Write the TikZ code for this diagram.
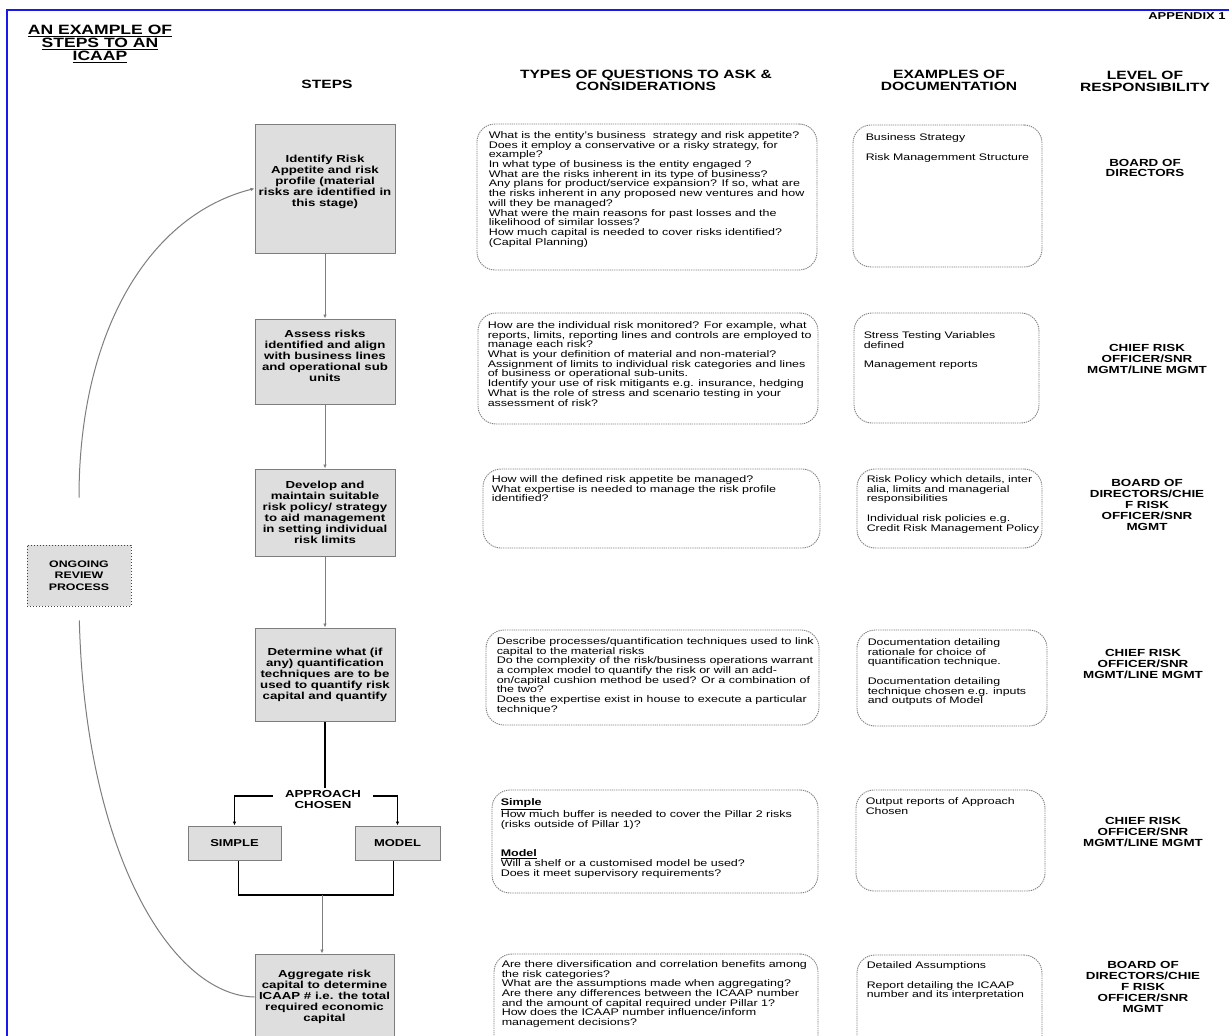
\documentclass[tikz,border=0pt]{standalone}
\usepackage{fontspec}
\setmainfont[FakeStretch=1.3]{Liberation Sans}
\usetikzlibrary{positioning,arrows.meta}

\definecolor{boxgray}{RGB}{222,222,222}
\definecolor{linegray}{RGB}{125,125,125}
\definecolor{frameblue}{RGB}{25,25,235}

\begin{document}
\begin{tikzpicture}[x=1pt, y=-1pt, >={Latex[length=4pt,width=3.5pt]},
    step_style/.style={draw=linegray, fill=boxgray, line width=1pt, align=center, inner sep=0pt, minimum width=140pt, font=\bfseries\fontsize{10.2}{11}\selectfont},
    choice_style/.style={draw=linegray, fill=boxgray, line width=1pt, inner sep=0pt, minimum height=34pt, font=\bfseries\fontsize{10}{11}\selectfont},
    approach_style/.style={align=center, inner xsep=12pt, inner ysep=2pt, font=\bfseries\fontsize{10.2}{11}\selectfont},
    review_style/.style={draw=darkgray, dotted, fill=boxgray, line width=1pt, align=center, minimum width=104pt, minimum height=61pt, font=\bfseries\fontsize{9.5}{11.5}\selectfont},
    rounded_style/.style={draw=gray, dash pattern=on 1.3pt off 0.9pt, line width=0.9pt, rounded corners=18pt, inner sep=0pt},
    text_style/.style={align=left, inner sep=0pt, font=\fontsize{9.6}{9.7}\selectfont},
    doc_style/.style={align=left, inner sep=0pt, font=\fontsize{9.5}{9.7}\selectfont},
    level_style/.style={align=center, inner sep=0pt, font=\bfseries\fontsize{10.3}{10.8}\selectfont},
    header_style/.style={align=center, inner sep=0pt, font=\bfseries\fontsize{12}{12}\selectfont},
    step_edge/.style={draw=linegray, line width=1pt},
    black_edge/.style={draw=black, line width=1.3pt}]

    \path[use as bounding box, clip] (0,0) rectangle (1229,1036);
    \fill[white] (0,0) rectangle (1229,1036);
    \draw[frameblue, line width=1.5pt] (1229,10) -- (7,10) -- (7,1036);

    % headings
    \node[align=center, inner sep=0pt, font=\bfseries\fontsize{13.5}{13.3}\selectfont] (title) at (100,44) {\underline{AN EXAMPLE OF}\\\underline{STEPS TO AN}\\\underline{ICAAP}};
    \node[inner sep=0pt, font=\bfseries\fontsize{10}{11}\selectfont] (appendix) at (1187,16) {APPENDIX 1};
    \node[header_style] (h_steps) at (327,84) {STEPS};
    \node[header_style] (h_questions) at (646,80) {TYPES OF QUESTIONS TO ASK \&\\CONSIDERATIONS};
    \node[header_style] (h_docs) at (949,80) {EXAMPLES OF\\DOCUMENTATION};
    \node[header_style] (h_level) at (1145,81) {LEVEL OF\\RESPONSIBILITY};

    % steps
    \node[step_style, minimum height=129pt] (identify) at (325,188.5) {Identify Risk\\Appetite and risk\\profile (material\\risks are identified in\\this stage)\\[5pt]\mbox{}};
    \node[step_style, minimum height=85pt] (assess) at (325,361.5) {Assess risks\\identified and align\\with business lines\\and operational sub\\units\\[0pt]\mbox{}};
    \node[step_style, minimum height=87pt] (develop) at (325,512.5) {Develop and\\maintain suitable\\risk policy/ strategy\\to aid management\\in setting individual\\risk limits};
    \node[step_style, minimum height=93pt] (determine) at (325,674.5) {Determine what (if\\any) quantification\\techniques are to be\\used to quantify risk\\capital and quantify};
    \node[approach_style] (approach) at (323,799) {APPROACH\\CHOSEN};
    \node[choice_style, minimum width=93pt] (simple) at (234.5,843) {SIMPLE};
    \node[choice_style, minimum width=85pt] (model) at (397.5,843) {MODEL};
    \coordinate (merge) at (322,895);
    \node[step_style, minimum width=139pt, minimum height=86pt] (aggregate) at (324.5,997) {Aggregate risk\\capital to determine\\ICAAP \# i.e. the total\\required economic\\capital};
    \node[review_style] (review) at (79,575.5) {ONGOING\\REVIEW\\PROCESS};

    % questions
    \node[rounded_style, minimum width=340pt, minimum height=146pt] (q1) at (647,197) {};
    \node[text_style, below right=7.7pt and 12pt of q1.north west] (q1_text) {What is the entity's business \ strategy and risk appetite?\\Does it employ a conservative or a risky strategy, for\\example?\\In what type of business is the entity engaged ?\\What are the risks inherent in its type of business?\\Any plans for product/service expansion? If so, what are\\the risks inherent in any proposed new ventures and how\\will they be managed?\\What were the main reasons for past losses and the\\likelihood of similar losses?\\How much capital is needed to cover risks identified?\\(Capital Planning)};
    \node[rounded_style, minimum width=340pt, minimum height=111pt] (q2) at (648,368.5) {};
    \node[text_style, below right=8.7pt and 10pt of q2.north west] (q2_text) {How are the individual risk monitored? For example, what\\reports, limits, reporting lines and controls are employed to\\manage each risk?\\What is your definition of material and non-material?\\Assignment of limits to individual risk categories and lines\\of business or operational sub-units.\\Identify your use of risk mitigants e.g. insurance, hedging\\What is the role of stress and scenario testing in your\\assessment of risk?};
    \node[rounded_style, minimum width=337pt, minimum height=79pt] (q3) at (651.5,508.5) {};
    \node[text_style, below right=6.7pt and 9pt of q3.north west] (q3_text) {How will the defined risk appetite be managed?\\What expertise is needed to manage the risk profile\\identified?};
    \node[rounded_style, minimum width=333pt, minimum height=95pt] (q4) at (652.5,677.5) {};
    \node[text_style, below right=7.7pt and 11pt of q4.north west] (q4_text) {Describe processes/quantification techniques used to link\\capital to the material risks\\Do the complexity of the risk/business operations warrant\\a complex model to quantify the risk or will an add-\\on/capital cushion method be used? Or a combination of\\the two?\\Does the expertise exist in house to execute a particular\\technique?};
    \node[rounded_style, minimum width=326pt, minimum height=103pt] (q5) at (655,841.5) {};
    \node[text_style, below right=8.7pt and 9pt of q5.north west] (q5_text) {\underline{\textbf{Simple}}\\How much buffer is needed to cover the Pillar 2 risks\\(risks outside of Pillar 1)?\\[20pt]\underline{\textbf{Model}}\\Will a shelf or a customised model be used?\\Does it meet supervisory requirements?};
    \node[rounded_style, minimum width=324pt, minimum height=106pt] (q6) at (656,1007) {};
    \node[text_style, below right=6.7pt and 8pt of q6.north west] (q6_text) {Are there diversification and correlation benefits among\\the risk categories?\\What are the assumptions made when aggregating?\\Are there any differences between the ICAAP number\\and the amount of capital required under Pillar 1?\\How does the ICAAP number influence/inform\\management decisions?};

    % documentation
    \node[rounded_style, minimum width=189pt, minimum height=142pt] (d1) at (947.5,196) {};
    \node[doc_style, below right=8.7pt and 13pt of d1.north west] (d1_text) {Business Strategy\\[10pt]Risk Managemment Structure};
    \node[rounded_style, minimum width=185pt, minimum height=110pt] (d2) at (946.5,368) {};
    \node[doc_style, below right=18.7pt and 10pt of d2.north west] (d2_text) {Stress Testing Variables\\defined\\[10pt]Management reports};
    \node[rounded_style, minimum width=185pt, minimum height=79pt] (d3) at (949.5,508.5) {};
    \node[doc_style, below right=6.7pt and 10pt of d3.north west] (d3_text) {Risk Policy which details, inter\\alia, limits and managerial\\responsibilities\\[10pt]Individual risk policies e.g.\\Credit Risk Management Policy};
    \node[rounded_style, minimum width=190pt, minimum height=96pt] (d4) at (952,678) {};
    \node[doc_style, below right=8.7pt and 11pt of d4.north west] (d4_text) {Documentation detailing\\rationale for choice of\\quantification technique.\\[10pt]Documentation detailing\\technique chosen e.g. inputs\\and outputs of Model};
    \node[rounded_style, minimum width=189pt, minimum height=101pt] (d5) at (950.5,840.5) {};
    \node[doc_style, below right=7.7pt and 10pt of d5.north west] (d5_text) {Output reports of Approach\\Chosen};
    \node[rounded_style, minimum width=185pt, minimum height=105pt] (d6) at (949.5,1007.5) {};
    \node[doc_style, below right=6.7pt and 10pt of d6.north west] (d6_text) {Detailed Assumptions\\[10pt]Report detailing the ICAAP\\number and its interpretation};

    % responsibility
    \node[level_style] (r1) at (1145,168) {BOARD OF\\DIRECTORS};
    \node[level_style] (r2) at (1147,359) {CHIEF RISK\\OFFICER/SNR\\MGMT/LINE MGMT};
    \node[level_style] (r3) at (1147,505) {BOARD OF\\DIRECTORS/CHIE\\F RISK\\OFFICER/SNR\\MGMT};
    \node[level_style] (r4) at (1143,664) {CHIEF RISK\\OFFICER/SNR\\MGMT/LINE MGMT};
    \node[level_style] (r5) at (1143,832) {CHIEF RISK\\OFFICER/SNR\\MGMT/LINE MGMT};
    \node[level_style] (r6) at (1143,987) {BOARD OF\\DIRECTORS/CHIE\\F RISK\\OFFICER/SNR\\MGMT};

    % flow
    \draw[step_edge, ->] (identify) -- (assess);
    \draw[step_edge, ->] (assess) -- (develop);
    \draw[step_edge, ->] (develop) -- (determine);
    \draw[black_edge] (determine.south) -- (determine.south |- approach.north);
    \draw[black_edge, ->] ([yshift=3pt]approach.west) -| (simple.north);
    \draw[black_edge, ->] ([yshift=3pt]approach.east) -| (model.north);
    \draw[black_edge] ([xshift=4pt]simple.south) |- (merge) -| ([xshift=-4pt]model.south);
    \draw[step_edge, ->] (merge) -- (merge |- aggregate.north);
    \draw[step_edge, ->, shorten <=47pt] (review.north) .. controls (79,330) and (150,215) .. (identify.west);
    \draw[step_edge, shorten <=14pt] (review.south) .. controls (85,850) and (170,995) .. (aggregate.west);
\end{tikzpicture}
\end{document}
